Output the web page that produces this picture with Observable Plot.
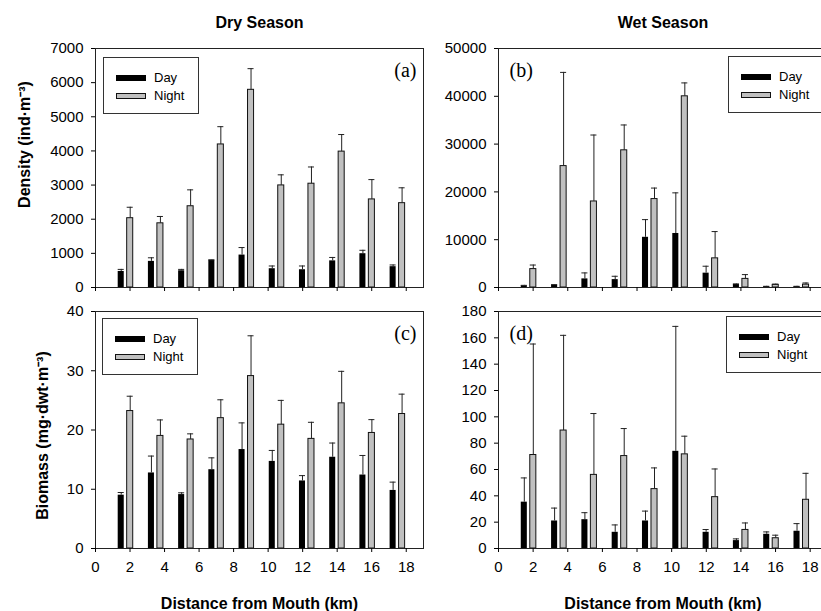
<!DOCTYPE html>
<html><head><meta charset="utf-8">
<script src="https://cdn.jsdelivr.net/npm/d3@7"></script>
<script src="https://cdn.jsdelivr.net/npm/@observablehq/plot@0.6"></script>
<style>
html,body{margin:0;padding:0;background:#fff;}
#chart{position:relative;width:821px;height:611px;overflow:hidden;background:#fff;font-family:"Liberation Sans",Arial,sans-serif;}
.legend{position:absolute;width:96px;height:57px;border:1px solid #333;background:#fff;box-sizing:border-box;font-size:13px;color:#000;}
.legend .sw{position:absolute;left:12px;width:30px;height:6px;box-sizing:border-box;}
.legend .lab{position:absolute;left:50px;line-height:16px;}
</style></head><body><div id="chart"></div>
<script>
// Station positions along the estuary (km from mouth)
const stations = [1.75, 3.5, 5.25, 7.0, 8.75, 10.5, 12.25, 14.0, 15.75, 17.5];
const xTicks = [0, 2, 4, 6, 8, 10, 12, 14, 16, 18];

// (a) Dry season density (ind·m-3)
const dryDensityDay     = [470, 765, 490, 800, 950, 550, 520, 780, 990, 610];
const dryDensityDaySE   = [60, 105, 40, 10, 220, 80, 110, 100, 100, 50];
const dryDensityNight   = [2030, 1880, 2380, 4190, 5790, 2990, 3040, 3980, 2580, 2470];
const dryDensityNightSE = [320, 200, 480, 520, 620, 310, 490, 500, 580, 450];
const dryDensityTicks   = [0, 1000, 2000, 3000, 4000, 5000, 6000, 7000];

// (b) Wet season density
const wetDensityDay     = [350, 500, 1800, 1650, 10500, 11300, 3000, 650, 200, 200];
const wetDensityDaySE   = [100, 100, 1250, 700, 3700, 8500, 1450, 100, 50, 50];
const wetDensityNight   = [3850, 25400, 18000, 28700, 18500, 40000, 6100, 1800, 550, 600];
const wetDensityNightSE = [850, 19600, 13900, 5300, 2300, 2800, 5600, 900, 150, 350];
const wetDensityTicks   = [0, 10000, 20000, 30000, 40000, 50000];

// (c) Dry season biomass (mg·dwt·m-3)
const dryBiomassDay     = [9.0, 12.75, 9.1, 13.3, 16.7, 14.7, 11.4, 15.4, 12.4, 9.8];
const dryBiomassDaySE   = [0.45, 2.85, 0.3, 2.0, 4.5, 1.85, 0.9, 2.4, 3.3, 1.4];
const dryBiomassNight   = [23.2, 19.0, 18.4, 22.0, 29.1, 20.9, 18.5, 24.5, 19.5, 22.7];
const dryBiomassNightSE = [2.5, 2.7, 0.95, 3.1, 6.8, 4.1, 2.8, 5.4, 2.25, 3.35];
const dryBiomassTicks   = [0, 10, 20, 30, 40];

// (d) Wet season biomass
const wetBiomassDay     = [35.2, 20.9, 21.9, 12.3, 20.9, 73.8, 12.3, 6.0, 10.8, 13.1];
const wetBiomassDaySE   = [18.4, 9.8, 5.3, 5.6, 7.5, 94.9, 2.1, 1.3, 1.8, 5.8];
const wetBiomassNight   = [71.0, 89.6, 55.9, 70.2, 45.1, 71.5, 39.0, 14.1, 7.8, 37.0];
const wetBiomassNightSE = [84.3, 72.3, 46.6, 20.9, 16.1, 13.8, 21.4, 5.3, 2.3, 20.1];
const wetBiomassTicks   = [0, 20, 40, 60, 80, 100, 120, 140, 160, 180];

const seriesNames = ["Day", "Night"];

const rowsFor = (day, daySE, night, nightSE) => stations.flatMap((s, i) => [
  {station: s, period: seriesNames[0], value: day[i], se: daySE[i]},
  {station: s, period: seriesNames[1], value: night[i], se: nightSE[i]}
]);

const shift = 0.26, half = 0.175;
const center = d => d.station + (d.period === "Day" ? -shift : shift);
const chart = document.getElementById("chart");
const sans = "'Liberation Sans', Arial, sans-serif";
const serif = "'Liberation Serif', 'Times New Roman', serif";

function panel(o) {
  const rows = rowsFor(o.day, o.daySE, o.night, o.nightSE);
  const marks = [
    Plot.rectY(rows.filter(d => d.period === "Day"), {x1: d => center(d) - half, x2: d => center(d) + half, y1: 0, y2: "value", fill: "#000"}),
    Plot.rectY(rows.filter(d => d.period === "Night"), {x1: d => center(d) - half, x2: d => center(d) + half, y1: 0, y2: "value", fill: "#c0c0c0", stroke: "#111", strokeWidth: 1}),
    Plot.ruleX(rows, {x: center, y1: "value", y2: d => d.value + d.se, stroke: "#222", strokeWidth: 1}),
    Plot.ruleY(rows, {y: d => d.value + d.se, x1: d => center(d) - half, x2: d => center(d) + half, stroke: "#222", strokeWidth: 1}),
    Plot.frame({stroke: "#222"}),
    Plot.axisY({ticks: o.yTicks, tickSize: 4, tickPadding: 8, tickFormat: d3.format("d"), label: null, fontSize: 15}),
    Plot.axisX({ticks: xTicks, tickSize: 4, tickPadding: 9, tickFormat: o.showX ? d3.format("d") : () => "", label: null, fontSize: 15}),
    Plot.text([o.tag], {text: d => d, frameAnchor: o.tagSide === "right" ? "top-right" : "top-left", dx: o.tagSide === "right" ? -7 : 11, dy: 22, textAnchor: o.tagSide === "right" ? "end" : "start", lineAnchor: "middle", fontFamily: serif, fontSize: 20})
  ];
  if (o.title) marks.push(Plot.text([o.title], {text: d => d, frameAnchor: "top", dy: -26, lineAnchor: "middle", fontWeight: "bold", fontSize: 16}));
  if (o.yLabel) marks.push(Plot.text([o.yLabel], {text: d => d, frameAnchor: "top-left", dx: o.yLabelDx, dy: o.yLabelDy, rotate: -90, textAnchor: "middle", lineAnchor: "middle", fontWeight: "bold", fontSize: 16}));
  if (o.xLabel) marks.push(Plot.text([o.xLabel], {text: d => d, frameAnchor: "bottom", dy: 55, lineAnchor: "middle", fontWeight: "bold", fontSize: 16}));
  const svg = Plot.plot({
    width: o.width, height: o.height,
    marginLeft: o.ml, marginRight: o.mr, marginTop: o.mt, marginBottom: o.mb,
    x: {domain: [0, 19]},
    y: {domain: [o.yTicks[0], o.yTicks[o.yTicks.length - 1]]},
    style: {fontFamily: sans, fontSize: "15px", color: "#000", background: "transparent", overflow: "visible", maxWidth: "none"},
    marks
  });
  svg.style.position = "absolute";
  svg.style.left = o.left + "px";
  svg.style.top = o.top + "px";
  chart.appendChild(svg);
}

function legend(left, top) {
  const div = document.createElement("div");
  div.className = "legend";
  div.style.left = left + "px";
  div.style.top = top + "px";
  div.innerHTML =
    `<div class="sw" style="top:17px;background:#000"></div>` +
    `<div class="lab" style="top:12px">${seriesNames[0]}</div>` +
    `<div class="sw" style="top:35px;background:#c0c0c0;border:1px solid #111"></div>` +
    `<div class="lab" style="top:30px">${seriesNames[1]}</div>`;
  chart.appendChild(div);
}

panel({day: dryDensityDay, daySE: dryDensityDaySE, night: dryDensityNight, nightSE: dryDensityNightSE,
  yTicks: dryDensityTicks, left: 0, top: 0, width: 430, height: 300, ml: 95, mr: 7, mt: 48, mb: 13,
  showX: false, title: "Dry Season", yLabel: "Density (ind·m⁻³)", yLabelDx: -71, yLabelDy: 96, tag: "(a)", tagSide: "right"});
panel({day: wetDensityDay, daySE: wetDensityDaySE, night: wetDensityNight, nightSE: wetDensityNightSE,
  yTicks: wetDensityTicks, left: 410, top: 0, width: 430, height: 300, ml: 88, mr: 13, mt: 48, mb: 13,
  showX: false, title: "Wet Season", tag: "(b)", tagSide: "left"});
panel({day: dryBiomassDay, daySE: dryBiomassDaySE, night: dryBiomassNight, nightSE: dryBiomassNightSE,
  yTicks: dryBiomassTicks, left: 0, top: 290, width: 430, height: 321, ml: 95, mr: 7, mt: 21, mb: 63,
  showX: true, yLabel: "Biomass (mg·dwt·m⁻³)", yLabelDx: -53, yLabelDy: 124, xLabel: "Distance from Mouth (km)", tag: "(c)", tagSide: "right"});
panel({day: wetBiomassDay, daySE: wetBiomassDaySE, night: wetBiomassNight, nightSE: wetBiomassNightSE,
  yTicks: wetBiomassTicks, left: 410, top: 290, width: 430, height: 321, ml: 88, mr: 13, mt: 21, mb: 63,
  showX: true, xLabel: "Distance from Mouth (km)", tag: "(d)", tagSide: "left"});

legend(103, 57);
legend(728, 56);
legend(102, 318);
legend(726, 316);
</script>
</body></html>
